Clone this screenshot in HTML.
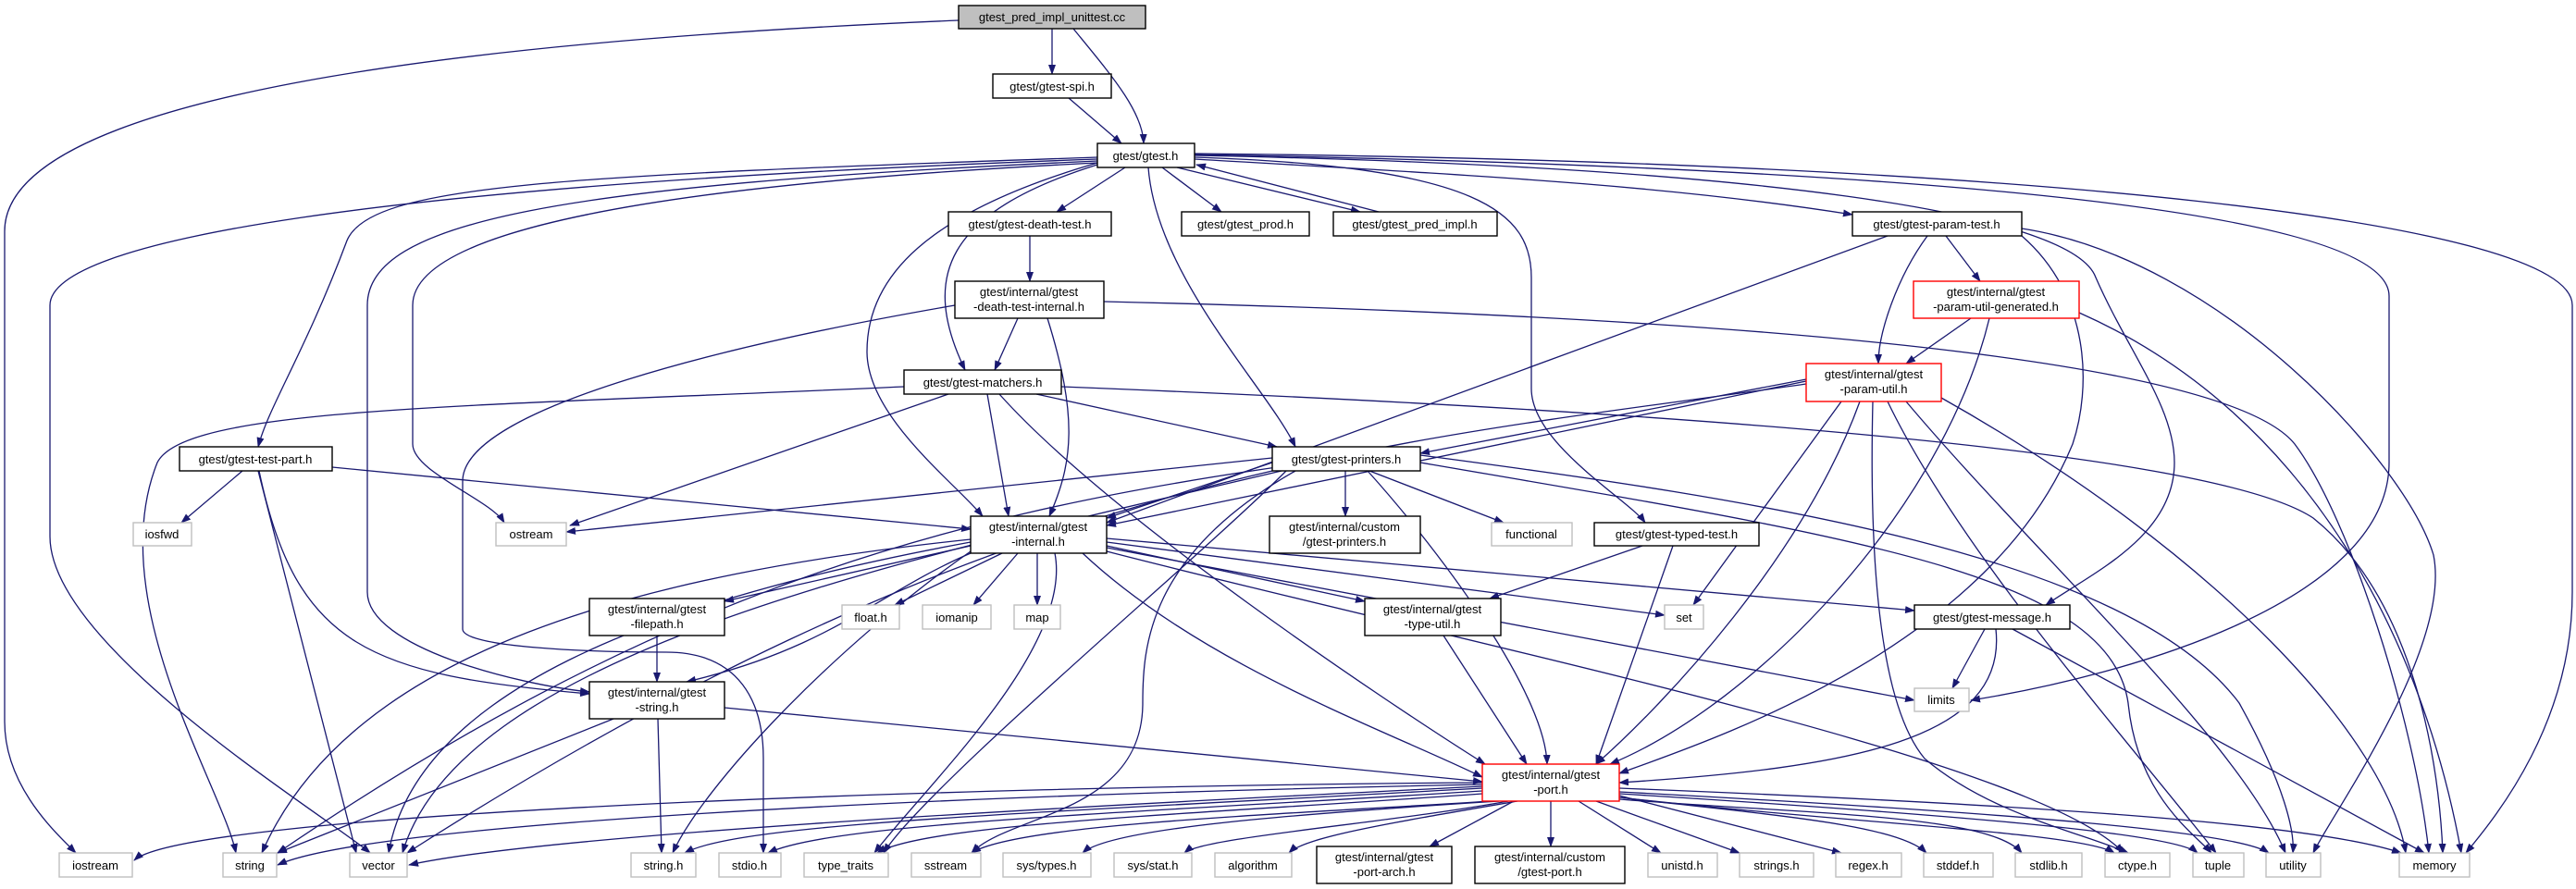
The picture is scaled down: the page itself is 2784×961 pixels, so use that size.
<!DOCTYPE html>
<html><head><meta charset="utf-8"><style>
html,body{margin:0;padding:0;background:#fff;}
svg{display:block;}
text{font-family:"Liberation Sans",sans-serif;font-size:13px;fill:#000;text-anchor:middle;}
.e{fill:none;stroke:#191970;stroke-width:1.3;marker-end:url(#a);}
.n{fill:#fff;stroke:#000;stroke-width:1.4;}
.g{fill:#fff;stroke:#bfbfbf;stroke-width:1.4;}
.r{fill:#fff;stroke:#ff0000;stroke-width:1.4;}
</style></head><body>
<svg width="2784" height="961" viewBox="0 0 2784 961" xmlns="http://www.w3.org/2000/svg">
<defs><marker id="a" markerWidth="11" markerHeight="8" refX="10" refY="4" orient="auto" markerUnits="userSpaceOnUse"><path d="M0,0 L11,4 L0,8 z" fill="#191970"/></marker></defs>

<!-- edges -->
<g>
<path class="e" d="M1036,22 C600,40 5,90 5,250 L5,780 C5,850 60,900 82,922"/>
<path class="e" d="M1137,31 L1137,80"/>
<path class="e" d="M1160,31 C1200,80 1235,120 1236,155"/>
<path class="e" d="M1155,106 L1212,155"/>
<path class="e" d="M1216,181 L1142,229"/>
<path class="e" d="M1256,181 L1320,229"/>
<path class="e" d="M1272,181 L1470,229"/>
<path class="e" d="M1490,229 L1293,178"/>
<path class="e" d="M1291,172 C1600,190 1800,200 2002,232"/>
<path class="e" d="M1186,178 C1020,230 995,300 1043,400"/>
<path class="e" d="M1186,176 C1000,230 937,300 937,380 C937,450 1030,520 1062,558"/>
<path class="e" d="M1241,181 C1250,300 1370,420 1400,483"/>
<path class="e" d="M1291,170 C1600,180 1655,230 1655,300 L1655,420 C1655,480 1760,540 1778,565"/>
<path class="e" d="M1291,168 C1900,180 2240,230 2265,300 C2300,380 2350,440 2350,500 C2350,580 2260,620 2211,654"/>
<path class="e" d="M1291,167 C2000,180 2582,220 2582,320 L2582,500 C2582,650 2300,730 2130,757"/>
<path class="e" d="M1291,166 C2200,175 2780,240 2780,330 L2780,640 C2780,780 2700,880 2665,922"/>
<path class="e" d="M1186,170 C600,190 400,200 375,260 C330,380 290,440 279,483"/>
<path class="e" d="M1186,172 C400,200 54,260 54,330 L54,580 C54,700 350,880 400,922"/>
<path class="e" d="M1186,174 C600,200 397,240 397,330 L397,640 C397,700 560,740 637,748"/>
<path class="e" d="M1186,176 C700,200 446,250 446,330 L446,480 C446,510 530,540 545,565"/>
<path class="e" d="M1032,330 C800,370 500,440 500,520 L500,680 C500,700 640,705 720,705 C800,705 825,760 825,820 L825,922"/>
<path class="e" d="M1113,255 L1113,304"/>
<path class="e" d="M1100,344 L1075,400"/>
<path class="e" d="M1132,344 C1165,450 1160,500 1134,558"/>
<path class="e" d="M1193,326 C1800,340 2400,380 2480,480 C2540,560 2610,780 2625,922"/>
<path class="e" d="M977,418 C500,440 200,440 170,500 C110,650 240,850 255,922"/>
<path class="e" d="M1025,426 L616,568"/>
<path class="e" d="M1067,426 L1090,558"/>
<path class="e" d="M1120,426 L1380,483"/>
<path class="e" d="M1080,426 C1200,560 1500,760 1605,826"/>
<path class="e" d="M1147,418 C1700,440 2380,480 2500,560 C2600,640 2635,800 2640,922"/>
<path class="e" d="M262,509 L196,565"/>
<path class="e" d="M279,509 L385,922"/>
<path class="e" d="M280,509 C320,700 400,730 637,750"/>
<path class="e" d="M359,505 L1049,572"/>
<path class="e" d="M1049,590 L783,650"/>
<path class="e" d="M1083,598 L967,654"/>
<path class="e" d="M1100,598 L1052,654"/>
<path class="e" d="M1121,598 L1121,654"/>
<path class="e" d="M1049,598 C950,640 900,700 742,737"/>
<path class="e" d="M1049,583 C700,620 380,700 283,922"/>
<path class="e" d="M1049,586 C700,650 450,750 420,922"/>
<path class="e" d="M1049,596 C900,700 760,850 727,922"/>
<path class="e" d="M1140,598 C1160,700 1000,850 945,922"/>
<path class="e" d="M1170,598 C1300,720 1500,790 1602,840"/>
<path class="e" d="M1196,590 L1475,650"/>
<path class="e" d="M1196,586 L1799,665"/>
<path class="e" d="M1196,582 L2069,660"/>
<path class="e" d="M1196,592 L2069,757"/>
<path class="e" d="M1196,596 C1600,700 2200,820 2295,922"/>
<path class="e" d="M1375,500 L1196,560"/>
<path class="e" d="M1454,509 L1454,558"/>
<path class="e" d="M1480,509 L1625,565"/>
<path class="e" d="M1478,509 C1560,600 1670,750 1672,826"/>
<path class="e" d="M1375,495 L612,575"/>
<path class="e" d="M1380,505 C1000,560 700,650 300,922"/>
<path class="e" d="M1385,509 C1000,600 500,700 435,922"/>
<path class="e" d="M1400,509 C1240,600 1235,700 1235,760 C1235,880 1090,880 1050,922"/>
<path class="e" d="M1390,509 C1300,600 1000,850 955,922"/>
<path class="e" d="M1535,500 C2000,580 2280,620 2300,760 C2310,860 2370,900 2390,922"/>
<path class="e" d="M1535,492 C1900,540 2300,600 2420,760 C2470,850 2480,900 2478,922"/>
<path class="e" d="M1952,410 L1535,490"/>
<path class="e" d="M1952,412 L1196,568"/>
<path class="e" d="M1952,415 C1500,480 1100,500 440,922"/>
<path class="e" d="M1990,434 L1830,654"/>
<path class="e" d="M2010,434 C1950,600 1800,760 1725,826"/>
<path class="e" d="M2024,434 C2020,600 2030,760 2080,820 C2150,880 2250,900 2300,922"/>
<path class="e" d="M2040,434 C2120,600 2300,800 2395,922"/>
<path class="e" d="M2060,434 C2200,600 2420,800 2470,922"/>
<path class="e" d="M2098,430 C2400,600 2580,800 2600,922"/>
<path class="e" d="M2130,344 L2060,393"/>
<path class="e" d="M2150,344 C2100,550 1900,760 1740,826"/>
<path class="e" d="M2247,338 C2500,450 2620,700 2660,922"/>
<path class="e" d="M2103,255 L2140,304"/>
<path class="e" d="M2083,255 C2050,300 2030,360 2030,393"/>
<path class="e" d="M2040,255 L1196,565"/>
<path class="e" d="M2185,255 C2260,320 2260,420 2240,480 C2150,700 1850,800 1750,836"/>
<path class="e" d="M2185,247 C2400,280 2600,500 2630,600 C2650,700 2520,880 2500,922"/>
<path class="e" d="M1775,590 L1610,647"/>
<path class="e" d="M1808,590 L1725,826"/>
<path class="e" d="M1560,687 L1650,826"/>
<path class="e" d="M710,687 L710,737"/>
<path class="e" d="M663,777 L300,922"/>
<path class="e" d="M711,777 L715,922"/>
<path class="e" d="M783,765 L1602,845"/>
<path class="e" d="M2145,680 L2110,744"/>
<path class="e" d="M2157,680 C2170,800 2000,830 1750,846"/>
<path class="e" d="M2175,680 L2620,922"/>
<!-- port outgoing -->
<path class="e" d="M1602,846 C1000,850 200,880 145,930"/>
<path class="e" d="M1602,848 C1000,860 400,890 300,935"/>
<path class="e" d="M1602,850 C1200,870 600,900 442,935"/>
<path class="e" d="M1602,852 C1100,880 800,890 740,922"/>
<path class="e" d="M1602,855 C1200,880 900,890 830,922"/>
<path class="e" d="M1602,858 C1300,880 1000,890 948,922"/>
<path class="e" d="M1610,866 C1400,880 1100,890 1050,922"/>
<path class="e" d="M1620,866 C1400,880 1200,895 1170,922"/>
<path class="e" d="M1630,866 C1500,890 1300,905 1280,922"/>
<path class="e" d="M1640,866 C1500,890 1410,905 1393,922"/>
<path class="e" d="M1636,866 L1545,915"/>
<path class="e" d="M1676,866 L1676,915"/>
<path class="e" d="M1706,866 L1795,922"/>
<path class="e" d="M1725,866 L1880,922"/>
<path class="e" d="M1750,860 L1990,922"/>
<path class="e" d="M1750,862 C1900,880 2050,890 2082,922"/>
<path class="e" d="M1750,864 C1950,880 2150,880 2185,922"/>
<path class="e" d="M1750,862 C2000,890 2250,900 2285,922"/>
<path class="e" d="M1750,858 C2100,880 2350,900 2375,922"/>
<path class="e" d="M1750,856 C2200,880 2420,900 2452,922"/>
<path class="e" d="M1750,852 C2200,870 2500,890 2595,922"/>
</g>

<!-- nodes -->
<g>
<rect x="1036" y="6" width="202" height="25" fill="#bfbfbf" stroke="#000" stroke-width="1.4"/><text x="1137" y="23">gtest_pred_impl_unittest.cc</text>
<rect class="n" x="1073" y="80" width="128" height="26"/><text x="1137" y="98">gtest/gtest-spi.h</text>
<rect class="n" x="1186" y="155" width="105" height="26"/><text x="1238" y="173">gtest/gtest.h</text>
<rect class="n" x="1025" y="229" width="176" height="26"/><text x="1113" y="247">gtest/gtest-death-test.h</text>
<rect class="n" x="1277" y="229" width="138" height="26"/><text x="1346" y="247">gtest/gtest_prod.h</text>
<rect class="n" x="1441" y="229" width="177" height="26"/><text x="1529" y="247">gtest/gtest_pred_impl.h</text>
<rect class="n" x="2002" y="229" width="183" height="26"/><text x="2093" y="247">gtest/gtest-param-test.h</text>
<rect class="n" x="1032" y="304" width="161" height="40"/><text x="1112" y="320">gtest/internal/gtest</text><text x="1112" y="336">-death-test-internal.h</text>
<rect class="r" x="2068" y="304" width="179" height="40"/><text x="2157" y="320">gtest/internal/gtest</text><text x="2157" y="336">-param-util-generated.h</text>
<rect class="n" x="977" y="400" width="170" height="26"/><text x="1062" y="418">gtest/gtest-matchers.h</text>
<rect class="r" x="1952" y="393" width="146" height="41"/><text x="2025" y="409">gtest/internal/gtest</text><text x="2025" y="425">-param-util.h</text>
<rect class="n" x="194" y="483" width="165" height="26"/><text x="276" y="501">gtest/gtest-test-part.h</text>
<rect class="n" x="1375" y="483" width="160" height="26"/><text x="1455" y="501">gtest/gtest-printers.h</text>
<rect class="g" x="144" y="565" width="63" height="25"/><text x="175" y="582">iosfwd</text>
<rect class="g" x="536" y="565" width="76" height="25"/><text x="574" y="582">ostream</text>
<rect class="n" x="1049" y="558" width="147" height="40"/><text x="1122" y="574">gtest/internal/gtest</text><text x="1122" y="590">-internal.h</text>
<rect class="n" x="1372" y="558" width="163" height="40"/><text x="1453" y="574">gtest/internal/custom</text><text x="1453" y="590">/gtest-printers.h</text>
<rect class="g" x="1612" y="565" width="87" height="25"/><text x="1655" y="582">functional</text>
<rect class="n" x="1723" y="565" width="178" height="25"/><text x="1812" y="582">gtest/gtest-typed-test.h</text>
<rect class="n" x="637" y="647" width="146" height="40"/><text x="710" y="663">gtest/internal/gtest</text><text x="710" y="679">-filepath.h</text>
<rect class="g" x="910" y="654" width="62" height="26"/><text x="941" y="672">float.h</text>
<rect class="g" x="997" y="654" width="74" height="26"/><text x="1034" y="672">iomanip</text>
<rect class="g" x="1096" y="654" width="50" height="26"/><text x="1121" y="672">map</text>
<rect class="n" x="1475" y="647" width="147" height="40"/><text x="1548" y="663">gtest/internal/gtest</text><text x="1548" y="679">-type-util.h</text>
<rect class="g" x="1799" y="654" width="42" height="26"/><text x="1820" y="672">set</text>
<rect class="n" x="2069" y="654" width="168" height="26"/><text x="2153" y="672">gtest/gtest-message.h</text>
<rect class="n" x="637" y="737" width="146" height="40"/><text x="710" y="753">gtest/internal/gtest</text><text x="710" y="769">-string.h</text>
<rect class="g" x="2069" y="744" width="59" height="25"/><text x="2098" y="761">limits</text>
<rect class="r" x="1602" y="826" width="148" height="40"/><text x="1676" y="842">gtest/internal/gtest</text><text x="1676" y="858">-port.h</text>
<rect class="n" x="1423" y="915" width="146" height="40"/><text x="1496" y="931">gtest/internal/gtest</text><text x="1496" y="947">-port-arch.h</text>
<rect class="n" x="1594" y="915" width="162" height="40"/><text x="1675" y="931">gtest/internal/custom</text><text x="1675" y="947">/gtest-port.h</text>
<rect class="g" x="64" y="922" width="79" height="26"/><text x="103" y="940">iostream</text>
<rect class="g" x="241" y="922" width="58" height="26"/><text x="270" y="940">string</text>
<rect class="g" x="378" y="922" width="62" height="26"/><text x="409" y="940">vector</text>
<rect class="g" x="682" y="922" width="70" height="26"/><text x="717" y="940">string.h</text>
<rect class="g" x="777" y="922" width="67" height="26"/><text x="810" y="940">stdio.h</text>
<rect class="g" x="869" y="922" width="91" height="26"/><text x="914" y="940">type_traits</text>
<rect class="g" x="985" y="922" width="75" height="26"/><text x="1022" y="940">sstream</text>
<rect class="g" x="1084" y="922" width="95" height="26"/><text x="1131" y="940">sys/types.h</text>
<rect class="g" x="1204" y="922" width="84" height="26"/><text x="1246" y="940">sys/stat.h</text>
<rect class="g" x="1313" y="922" width="83" height="26"/><text x="1354" y="940">algorithm</text>
<rect class="g" x="1781" y="922" width="75" height="26"/><text x="1818" y="940">unistd.h</text>
<rect class="g" x="1880" y="922" width="80" height="26"/><text x="1920" y="940">strings.h</text>
<rect class="g" x="1984" y="922" width="71" height="26"/><text x="2019" y="940">regex.h</text>
<rect class="g" x="2079" y="922" width="75" height="26"/><text x="2116" y="940">stddef.h</text>
<rect class="g" x="2178" y="922" width="72" height="26"/><text x="2214" y="940">stdlib.h</text>
<rect class="g" x="2275" y="922" width="70" height="26"/><text x="2310" y="940">ctype.h</text>
<rect class="g" x="2370" y="922" width="55" height="26"/><text x="2397" y="940">tuple</text>
<rect class="g" x="2449" y="922" width="59" height="26"/><text x="2478" y="940">utility</text>
<rect class="g" x="2593" y="922" width="76" height="26"/><text x="2631" y="940">memory</text>
</g>
</svg>
</body></html>
